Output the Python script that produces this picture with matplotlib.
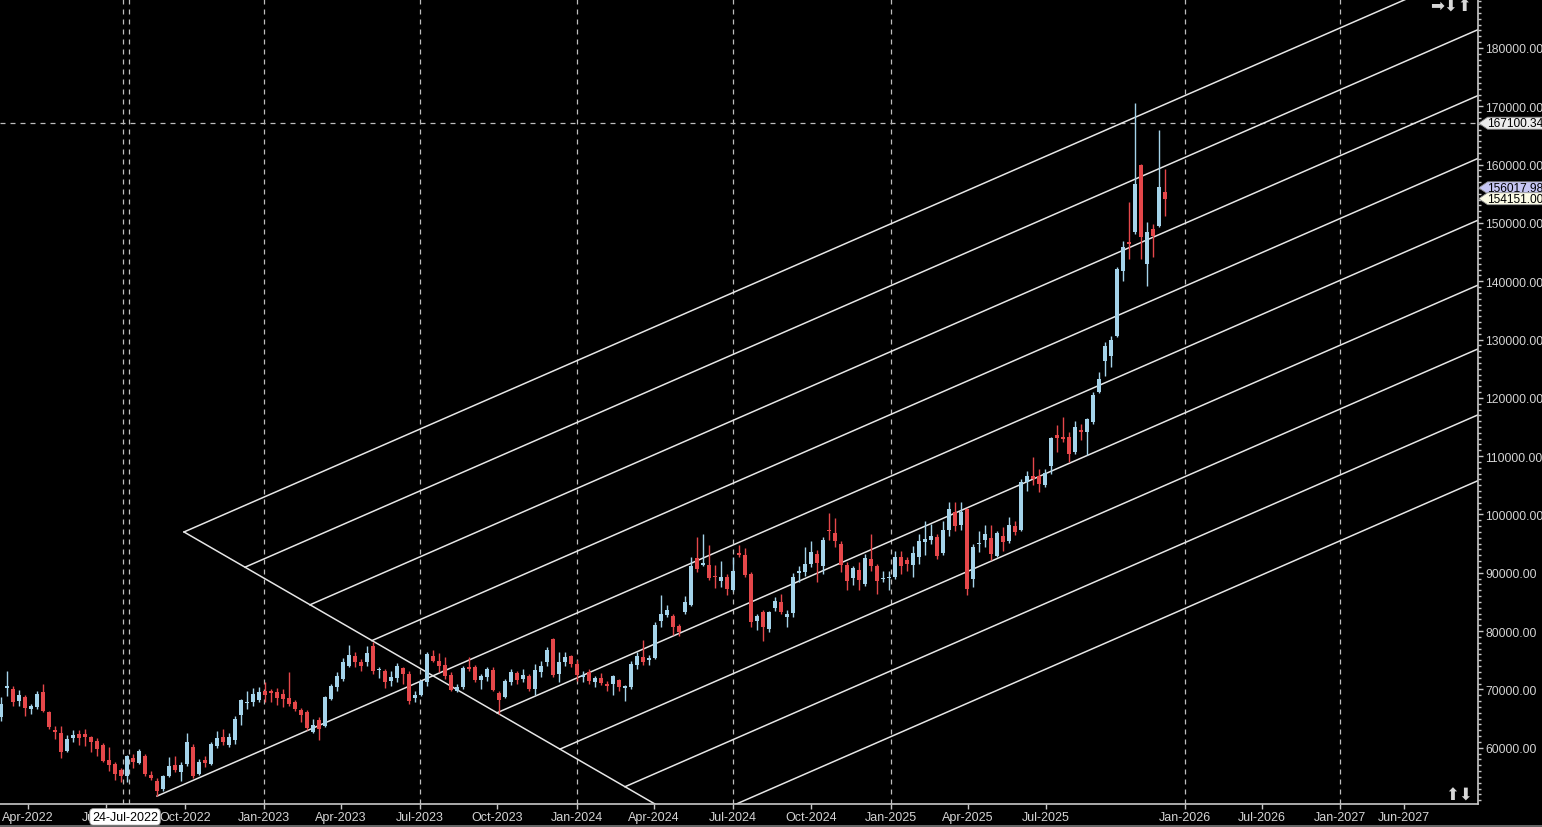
import matplotlib
matplotlib.use("Agg")
import matplotlib.pyplot as plt
from matplotlib.patches import Polygon
from matplotlib.ticker import FixedLocator, MultipleLocator
import numpy as np

# ---------------- data (weekly OHLC) ----------------
opens = [65300, 70200, 70100, 68000, 68700, 66600, 67000, 69600, 66100, 63000,
         62500, 59400, 61700, 62400, 62400, 61800, 61200, 60500, 57900, 57200,
         56200, 55100, 58200, 57400, 58600, 55300, 54300, 52900, 55100, 57000,
         55800, 57200, 60100, 55500, 57900, 57200, 60300, 61800, 60500, 61300,
         65600, 67700, 67800, 68200, 69700, 69700, 69600, 69200, 68500, 67800,
         66500, 66100, 62700, 64800, 63700, 68400, 70400, 71800, 74000, 75700,
         74700, 74700, 77400, 73300, 73200, 71400, 72000, 73700, 72600, 68500,
         69000, 71300, 75700, 74900, 74200, 72500, 69700, 70400, 73800, 73800,
         71600, 72100, 73300, 69400, 68700, 71300, 72800, 71800, 72300, 70100,
         73000, 74700, 78600, 72600, 74700, 75700, 74400, 72100, 73000, 71300,
         72000, 70900, 70900, 71600, 70200, 70400, 74200, 75600, 75000, 75400,
         81700, 82800, 82600, 80900, 83300, 84500, 92500, 91300, 91300, 89400,
         88600, 89300, 87000, 93400, 93000, 89800, 81700, 83300, 80400, 84000,
         85000, 82400, 83100, 90000, 90100, 91500, 93200, 91200, 97300, 96800,
         94900, 91300, 89100, 90500, 88100, 92400, 91200, 88900, 89100, 89300,
         92700, 92200, 91300, 92700, 95300, 95600, 96100, 93400, 97300, 100400,
         98200, 100900, 88900, 94900, 95600, 96000, 92900, 96300, 95500, 98000,
         97300, 105600, 106600, 106600, 105100, 108300, 113600, 113300, 113300, 110700,
         114500, 114100, 115900, 121000, 126300, 127200, 130600, 141800, 146700, 148400,
         159900, 143000, 149000, 149500, 155300]
highs = [68700, 73200, 70600, 69900, 69000, 67500, 69700, 70900, 66300, 63700,
         63700, 62200, 63000, 63000, 63200, 62000, 61700, 60800, 60100, 57500,
         56500, 58800, 58900, 59800, 58900, 56000, 54800, 55300, 58400, 58600,
         57500, 62500, 60600, 58100, 58600, 61000, 62900, 63200, 62500, 65400,
         68400, 69700, 70200, 70400, 71300, 70100, 70200, 70100, 73000, 68200,
         66800, 66500, 64900, 65300, 68900, 70900, 73000, 75400, 77600, 76400,
         75200, 77400, 78100, 73800, 73500, 73200, 74500, 73800, 73200, 69700,
         71600, 76400, 76800, 76200, 75600, 73000, 70900, 74000, 75600, 74200,
         72600, 73800, 73800, 69700, 71800, 73500, 73200, 73500, 72600, 74400,
         74900, 77300, 78800, 76400, 76400, 75900, 75000, 73200, 73500, 72300,
         72800, 71400, 72500, 71800, 70800, 74900, 76400, 78500, 75900, 81600,
         86200, 84500, 82900, 81200, 86000, 92700, 96100, 96700, 94800, 91300,
         92000, 89800, 92700, 94800, 94200, 90100, 82900, 83600, 83400, 85800,
         86400, 83600, 90000, 91200, 94400, 95500, 93900, 96100, 100300, 99400,
         95500, 91800, 91200, 91800, 93200, 96700, 91500, 90300, 90300, 93700,
         93700, 92700, 94600, 96700, 98800, 98400, 96700, 98900, 102100, 102100,
         102100, 101100, 94900, 97200, 98200, 98200, 97200, 97900, 99600, 98900,
         106100, 107500, 109900, 107800, 107800, 113300, 115300, 116700, 114100, 116000,
         115500, 116500, 121000, 124400, 129600, 130600, 142400, 146900, 153600, 170600,
         160100, 150200, 149800, 165900, 159200]
lows = [64600, 68900, 67200, 67200, 65400, 65800, 66600, 66100, 63200, 61500,
        58200, 59300, 61000, 60500, 60300, 59300, 58600, 57500, 56000, 54500,
        54100, 54100, 56500, 57200, 55100, 54500, 51700, 52600, 55000, 55800,
        54300, 56900, 54800, 55300, 56700, 57000, 60000, 60500, 60100, 60600,
        63900, 66600, 67200, 67800, 67800, 67800, 67300, 67000, 67200, 66300,
        64400, 63000, 62500, 61300, 63600, 68200, 69700, 71400, 73800, 73800,
        73200, 74000, 72600, 72000, 70200, 70600, 71300, 70900, 67500, 67800,
        68900, 70600, 74700, 73000, 71800, 69700, 69600, 70100, 73200, 71300,
        70100, 71400, 69700, 65800, 68500, 70800, 70900, 71300, 69700, 69000,
        72100, 74000, 72100, 71300, 74000, 73800, 71400, 71300, 70900, 70400,
        70800, 69700, 69000, 69700, 68000, 70100, 73500, 74200, 74200, 75200,
        80700, 82400, 79300, 79200, 82900, 84300, 90100, 91200, 88800, 87400,
        87600, 86200, 86800, 92700, 89300, 80700, 80200, 78300, 79800, 83400,
        82900, 80700, 82400, 88400, 89400, 91000, 88400, 89800, 95600, 94400,
        90100, 87000, 87900, 87000, 87700, 90300, 86400, 88400, 87000, 88900,
        89800, 90300, 89300, 91500, 93000, 94900, 92400, 93000, 96300, 97200,
        97300, 86200, 87600, 93600, 94400, 92200, 92700, 93700, 95100, 96500,
        97200, 104000, 105100, 103900, 104700, 106900, 110700, 112400, 109000, 110400,
        112800, 110200, 115500, 120800, 123700, 125300, 130400, 140000, 143800, 148100,
        143800, 139200, 144200, 149300, 151200]
closes = [67500, 70600, 67800, 69000, 66800, 67200, 69200, 66300, 63600, 62700,
          59300, 61500, 62200, 61700, 61800, 61000, 59800, 57700, 57000, 55500,
          55100, 58600, 57500, 59400, 55500, 54800, 52600, 55100, 56900, 56200,
          57000, 61000, 55100, 57500, 57400, 60600, 61700, 61000, 61800, 64900,
          68200, 67800, 69200, 69600, 69000, 69400, 68500, 68400, 67500, 66600,
          65600, 63400, 63900, 63200, 68700, 70600, 72300, 74700, 75900, 74700,
          74000, 76200, 73200, 73500, 71300, 72100, 74000, 72600, 68000, 69000,
          71400, 76100, 74900, 74000, 72300, 69900, 70400, 73700, 73500, 71600,
          72300, 73500, 69900, 68200, 71400, 73000, 71600, 72500, 70100, 73300,
          74000, 76800, 72500, 74700, 75600, 74400, 72500, 72500, 71400, 72000,
          71100, 70600, 72300, 70400, 70600, 74400, 75700, 74700, 75400, 81000,
          82900, 83600, 80700, 79800, 85000, 91200, 90600, 91700, 89100, 89300,
          89300, 87200, 90300, 93000, 89600, 81600, 82600, 80700, 83300, 85200,
          83300, 82900, 89300, 90300, 91500, 93600, 91700, 95600, 97200, 95500,
          91300, 88600, 90800, 88800, 92500, 91200, 88600, 89100, 89300, 92700,
          91200, 91500, 93400, 95500, 95800, 96300, 92900, 97300, 100900, 98000,
          100400, 87200, 94400, 95100, 96700, 93200, 96800, 95300, 98200, 97000,
          105600, 106600, 106100, 105200, 107100, 113100, 113100, 112900, 110400, 115000,
          114100, 116400, 120500, 123200, 128900, 129900, 142100, 145900, 146400, 156700,
          147600, 148400, 147800, 156200, 154151]

x_tick_pos = [4.5, 17.5, 30.67, 43.83, 56.67, 69.83, 82.67, 96.0, 108.83, 122.0,
              135.0, 148.33, 161.17, 174.17, 197.33, 210.17, 223.17, 233.83]
x_tick_labels = ["Apr-2022", "Jul-2022", "Oct-2022", "Jan-2023", "Apr-2023", "Jul-2023",
                 "Oct-2023", "Jan-2024", "Apr-2024", "Jul-2024", "Oct-2024", "Jan-2025",
                 "Apr-2025", "Jul-2025", "Jan-2026", "Jul-2026", "Jan-2027", "Jun-2027"]
v_grid_pos = [20.33, 21.33, 43.83, 69.83, 96.0, 122.0, 148.33, 197.33, 223.17]
y_ticks = list(range(60000, 180001, 10000))

crosshair_price = 167100.34
crosshair_date_label = "24-Jul-2022"
crosshair_bar = 20.67
tag_prices = [167100.34, 156017.98, 154151.00]
tag_colors = ["#EDEDED", "#C6C6F4", "#FBFBE6"]

# drawing-tool anchors (bar index, price)
fork_base = [(30.5, 97000), (115.0, 46770)]
fork_starts_x = [30.5, 40.67, 51.5, 61.83, 26.0, 82.67, 93.17, 104.0, 114.83]
fork_starts_y = [97000, 90960, 84510, 78370, 51700, 65990, 59760, 53310, 46880]
fork_slope = 448.6   # price per bar
fork_end_x = 247.0

# ---------------- style ----------------
BG = "#000000"
UP = "#A4D3EA"
DN = "#E5474A"
FG = "#D4D4D4"
GRID = "#BDBDBD"
LINE = "#E6E6E6"
FONT = "Liberation Sans"

W, H = 1542, 828
fig = plt.figure(figsize=(W / 100, H / 100), dpi=100, facecolor=BG)
ax = fig.add_axes([0, 23 / H, 1478 / W, 805 / H], facecolor=BG)

n = len(closes)
x = np.arange(n)
o = np.array(opens, float); h = np.array(highs, float)
l = np.array(lows, float); c = np.array(closes, float)
up = c >= o
cols = np.where(up, UP, DN)

# grid lines
for gx in v_grid_pos:
    ax.axvline(gx, color=GRID, lw=0.9, ls=(0, (4, 4)), zorder=1)
ax.axhline(crosshair_price, color=GRID, lw=0.9, ls=(0, (4, 4)), zorder=1)

# candles
ax.vlines(x, l, h, colors=cols, lw=1.0, zorder=3)
body_bot = np.minimum(o, c)
body_h = np.maximum(np.abs(c - o), 180)
ax.bar(x, body_h, bottom=body_bot, width=0.68, color=cols, edgecolor="none", zorder=4)

# fork lines
ax.plot([fork_base[0][0], fork_base[1][0]], [fork_base[0][1], fork_base[1][1]],
        color=LINE, lw=1.1, zorder=2)
for sx, sy in zip(fork_starts_x, fork_starts_y):
    ax.plot([sx, fork_end_x], [sy, sy + fork_slope * (fork_end_x - sx)],
            color=LINE, lw=1.1, zorder=2)

ax.set_xlim(-1 / 6, 1477 / 6)
ax.set_ylim(50346, 188400)

# axes/spines
for s in ["left", "top"]:
    ax.spines[s].set_visible(False)
for s in ["right", "bottom"]:
    ax.spines[s].set_color("#C8C8C8")
    ax.spines[s].set_linewidth(1.2)

ax.yaxis.tick_right()
ax.yaxis.set_major_locator(FixedLocator(y_ticks))
ax.yaxis.set_minor_locator(MultipleLocator(1000))
ax.set_yticklabels([f"{v:.2f}" for v in y_ticks])
ax.tick_params(axis="y", which="major", length=3.8, width=1, color="#C8C8C8",
               labelcolor=FG, labelsize=8.7, pad=1.6)
ax.tick_params(axis="y", which="minor", length=2.2, width=1, color="#C8C8C8")
ax.set_xticks(x_tick_pos)
ax.set_xticklabels(x_tick_labels)
ax.tick_params(axis="x", which="major", length=3.6, width=1, color="#C8C8C8",
               labelcolor=FG, labelsize=9, pad=1.2)
for t in ax.get_xticklabels() + ax.get_yticklabels():
    t.set_fontfamily(FONT)

# price tags on right axis
tr = ax.get_yaxis_transform()
half = 6 * 171.5
for k in range(len(tag_prices)):
    p, col = tag_prices[k], tag_colors[k]
    poly = Polygon([(1.0005, p), (1.0065, p + half), (1.05, p + half), (1.05, p - half),
                    (1.0065, p - half)], closed=True, transform=tr, clip_on=False,
                   facecolor=col, edgecolor="#909090", lw=0.6, zorder=10 + k)
    ax.add_patch(poly)
    ax.text(1.006, p, f"{p:.2f}", transform=tr, ha="left", va="center",
            fontsize=8.6, color="#000000", fontfamily=FONT, zorder=11 + k, clip_on=False)

# crosshair date label
xt = ax.get_xaxis_transform()
ax.text(crosshair_bar, -0.016, crosshair_date_label, transform=xt, ha="center", va="center",
        fontsize=9, color="#000000", fontfamily=FONT, zorder=20, clip_on=False,
        bbox=dict(boxstyle="round,pad=0.18,rounding_size=0.3", fc="#FFFFFF", ec="#9A9A9A", lw=0.6))

# navigation arrows
fig.text(1451 / W, 1 - 7 / H, "\u27A1\u2B07\u2B06", ha="center", va="center",
         fontsize=12, color="#D8D8D8", fontfamily="DejaVu Sans")
fig.text(1459 / W, 1 - 796 / H, "\u2B06\u2B07", ha="center", va="center",
         fontsize=12, color="#D8D8D8", fontfamily="DejaVu Sans")

# bottom border line
fig.add_artist(plt.Line2D([0, 1], [1.5 / H, 1.5 / H], color="#7A7A7A", lw=1.2))

fig.savefig("out.png", dpi=100, facecolor=BG)
